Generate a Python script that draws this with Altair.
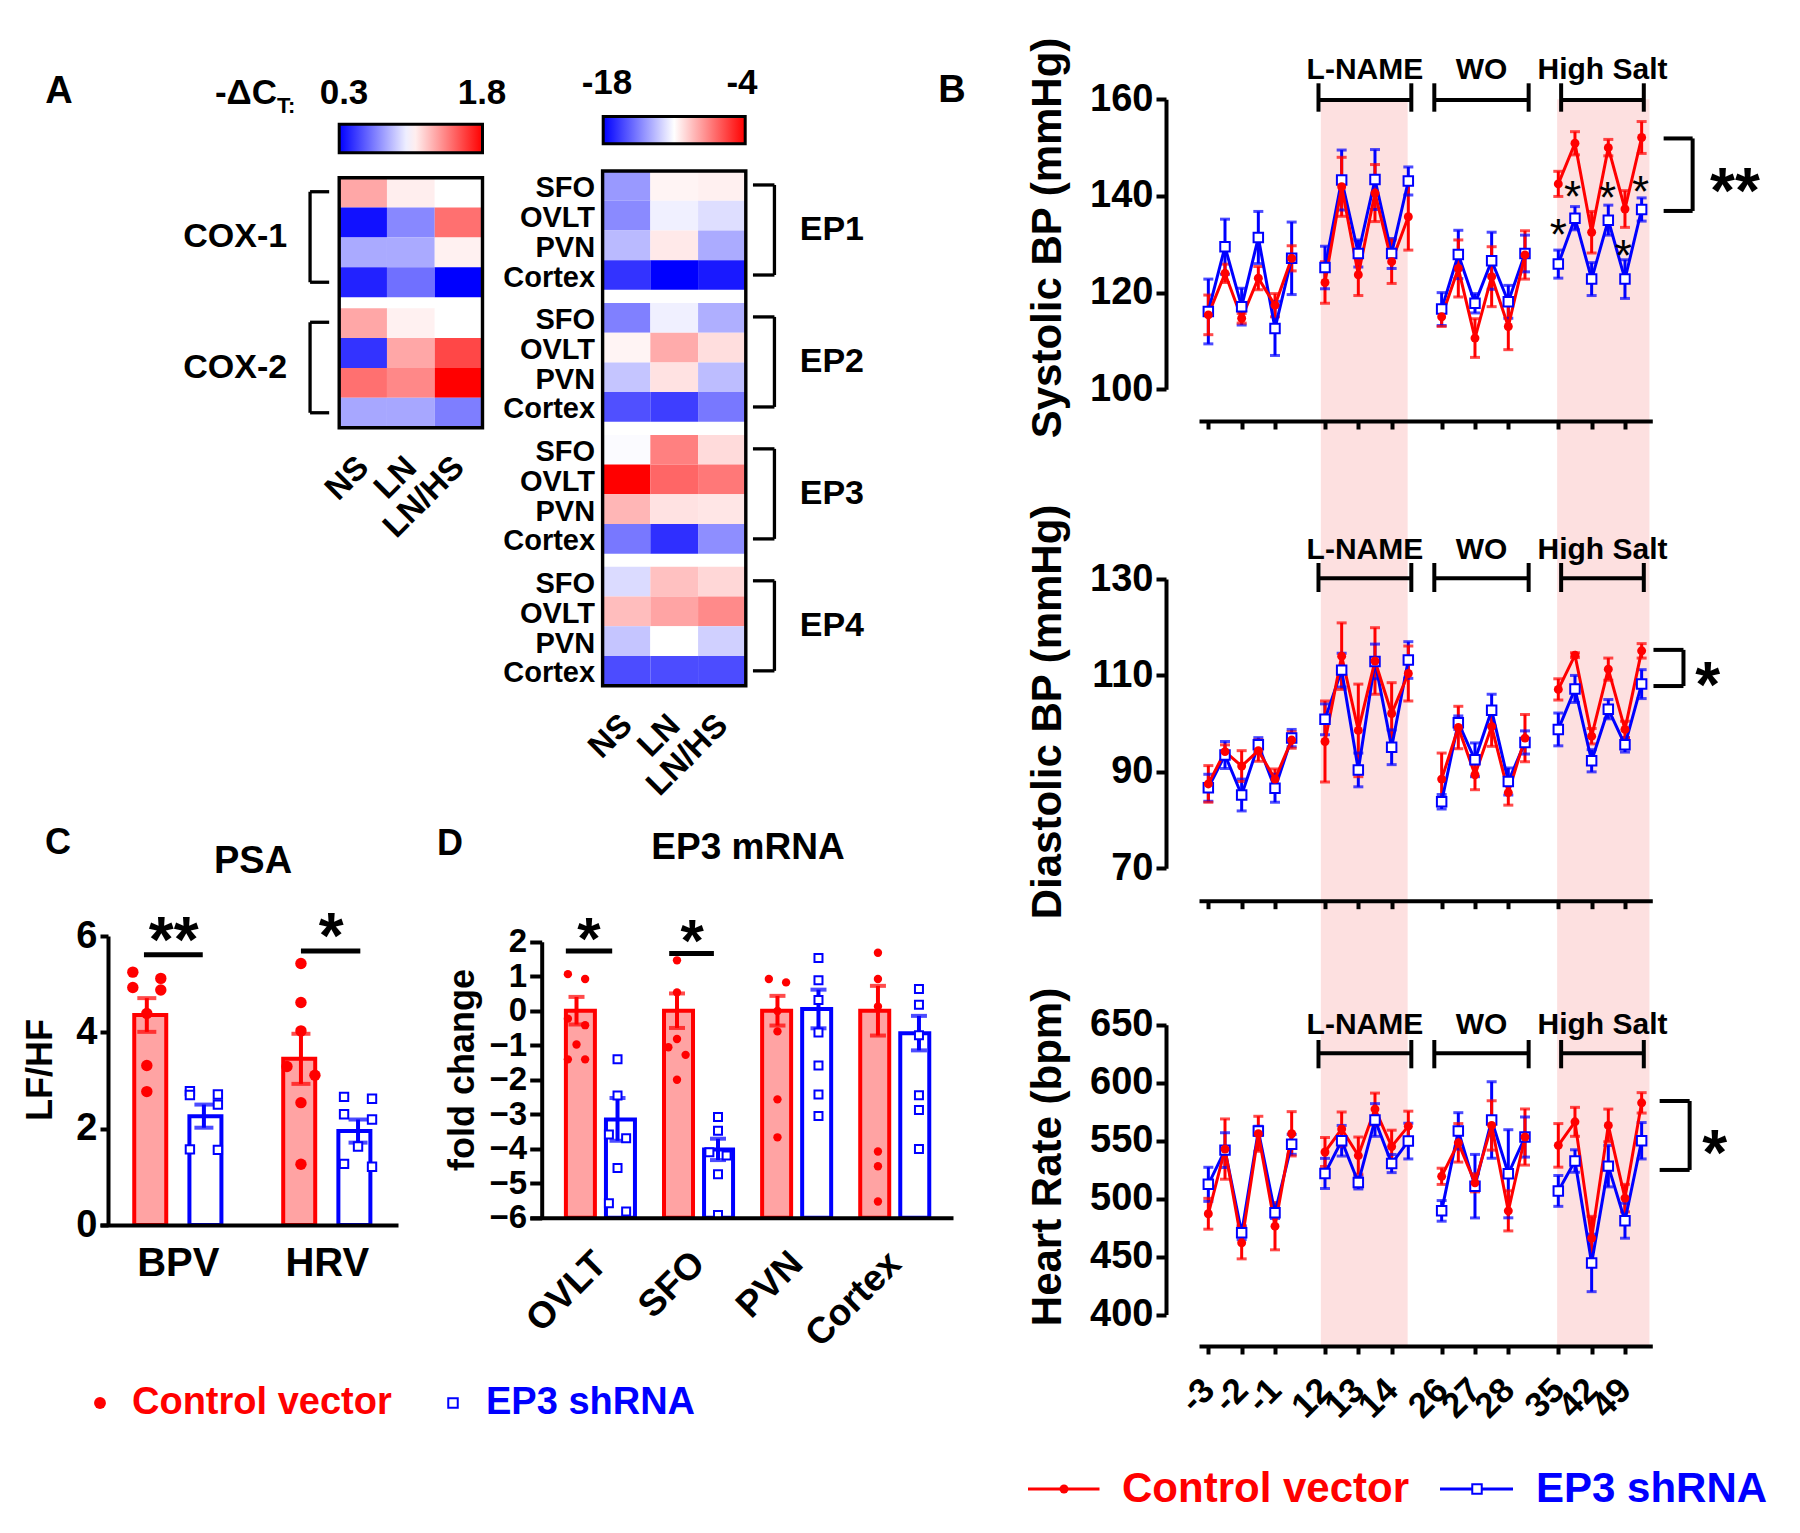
import json
import altair as alt
import pandas as pd

# ------------------------------------------------------------------ data
regions = ["SFO", "OVLT", "PVN", "Cortex"]
conditions = ["NS", "LN", "LN/HS"]

cox_genes = ["COX-1", "COX-2"]
cox_dct = [
    [[1.31, 1.10, 1.05], [0.35, 0.70, 1.47], [0.80, 0.80, 1.09], [0.40, 0.63, 0.30]],
    [[1.31, 1.09, 1.05], [0.45, 1.31, 1.59], [1.47, 1.40, 1.80], [0.79, 0.79, 0.67]],
]
cox_limits = [0.3, 1.8]

ep_genes = ["EP1", "EP2", "EP3", "EP4"]
ep_dct = [
    [[-13.8, -10.7, -10.6], [-14.2, -11.4, -11.9], [-12.9, -10.4, -13.3], [-16.6, -18.0, -17.3]],
    [[-14.5, -11.4, -13.2], [-10.7, -8.7, -10.1], [-12.6, -10.2, -12.8], [-15.8, -16.3, -14.7]],
    [[-11.1, -7.5, -10.0], [-4.0, -6.8, -7.3], [-9.0, -10.2, -10.3], [-14.7, -16.7, -14.1]],
    [[-12.0, -9.3, -9.9], [-9.2, -8.5, -7.8], [-12.6, -11.0, -12.3], [-15.9, -15.9, -15.9]],
]
ep_limits = [-18, -4]

series_names = ["Control vector", "EP3 shRNA"]
period_names = ["Baseline", "L-NAME", "WO", "High Salt"]
day_labels = ["-3", "-2", "-1", "12", "13", "14", "26", "27", "28", "35", "42", "49"]

sbp_ctrl = [115.4, 124.0, 114.7, 123.0, 117.4, 127.1,
            122.1, 141.9, 123.7, 140.6, 126.4, 135.7,
            115.0, 125.0, 110.6, 123.3, 113.0, 127.8,
            142.5, 150.9, 132.5, 150.0, 137.3, 152.1]
sbp_ctrl_sem = [4.1, 1.9, 1.0, 2.4, 2.4, 2.6,
                4.3, 6.1, 4.3, 5.9, 4.5, 6.9,
                2.0, 5.9, 4.0, 6.2, 4.8, 5.0,
                2.6, 2.4, 4.3, 1.7, 3.8, 3.3]
sbp_sh = [116.1, 129.5, 117.1, 131.4, 112.6, 127.1,
          125.2, 143.3, 128.1, 143.4, 128.1, 143.1,
          116.6, 127.9, 117.8, 126.6, 118.1, 128.1,
          125.9, 135.4, 122.8, 135.0, 122.8, 137.2]
sbp_sh_sem = [6.7, 5.7, 3.8, 5.4, 5.6, 7.5,
              4.4, 6.2, 2.8, 6.2, 3.1, 2.9,
              3.4, 5.0, 2.0, 5.9, 3.4, 3.8,
              2.9, 2.4, 3.4, 3.1, 4.0, 2.4]

dbp_ctrl = [87.5, 94.2, 91.2, 94.4, 88.5, 96.6,
            96.3, 114.0, 98.6, 113.0, 102.1, 110.4,
            88.5, 99.2, 89.4, 99.4, 85.7, 97.0,
            107.1, 114.2, 97.4, 111.3, 98.8, 115.1]
dbp_ctrl_sem = [3.8, 1.4, 3.2, 2.2, 2.1, 1.7,
                8.4, 6.9, 9.6, 6.9, 6.4, 5.7,
                5.4, 4.4, 3.1, 4.1, 2.6, 4.9,
                2.2, 0.5, 1.6, 2.3, 1.7, 1.5]
dbp_sh = [86.7, 93.5, 85.2, 95.6, 86.6, 97.0,
          100.9, 111.1, 90.4, 112.9, 95.1, 113.2,
          83.8, 100.2, 92.5, 102.8, 88.0, 96.1,
          98.8, 107.2, 92.3, 103.0, 95.6, 108.2]
dbp_sh_sem = [2.8, 2.8, 3.3, 1.5, 2.9, 1.8,
              3.2, 3.5, 3.5, 3.6, 3.6, 3.8,
              1.5, 1.4, 3.5, 3.3, 2.8, 2.4,
              3.4, 2.8, 2.3, 2.0, 1.5, 3.0]

hr_ctrl = [486.9, 542.7, 461.8, 555.9, 476.2, 555.9,
           540.2, 560.0, 537.1, 577.2, 544.9, 562.5,
           519.2, 548.1, 513.6, 563.1, 489.4, 553.1,
           545.9, 566.2, 465.9, 563.1, 500.4, 582.6]
hr_ctrl_sem = [13.3, 26.0, 13.8, 15.1, 20.4, 19.1,
               12.5, 14.7, 16.0, 13.8, 14.1, 12.9,
               7.0, 16.6, 7.8, 21.3, 17.3, 24.2,
               18.8, 12.5, 18.8, 14.1, 11.9, 8.8]
hr_sh = [512.3, 541.8, 470.6, 558.4, 487.8, 546.8,
         521.7, 549.9, 513.9, 567.8, 530.2, 549.6,
         489.4, 558.4, 510.7, 567.8, 521.4, 553.1,
         506.6, 532.4, 444.5, 528.0, 480.9, 549.9]
hr_sh_sem = [14.7, 15.0, 6.0, 4.0, 5.0, 8.6,
             13.0, 13.2, 5.6, 14.1, 7.8, 15.4,
             8.9, 15.7, 27.4, 33.0, 38.0, 17.3,
             13.3, 9.7, 24.8, 17.9, 15.1, 15.7]

psa_cats = ["BPV", "HRV"]
psa_ctrl_mean = [4.36, 3.45]
psa_ctrl_sem = [0.35, 0.52]
psa_sh_mean = [2.26, 1.95]
psa_sh_sem = [0.24, 0.24]
psa_ctrl_pts = [[5.25, 5.12, 4.93, 4.88, 4.39, 3.31, 2.77],
                [5.43, 4.62, 4.03, 3.29, 3.11, 2.54, 1.26]]
psa_sh_pts = [[2.78, 2.71, 2.70, 2.50, 1.57, 1.56],
              [2.66, 2.62, 2.30, 2.19, 1.63, 1.27, 1.21]]

mrna_cats = ["OVLT", "SFO", "PVN", "Cortex"]
mrna_ctrl_mean = [0.0, 0.0, 0.0, 0.0]
mrna_ctrl_sem = [0.40, 0.50, 0.43, 0.72]
mrna_sh_mean = [-3.15, -4.02, 0.05, -0.65]
mrna_sh_sem = [0.62, 0.31, 0.56, 0.50]
mrna_ctrl_pts = [[1.06, 0.92, -0.23, -0.42, -0.98, -1.41, -1.41],
                 [1.46, 0.53, -0.82, -1.06, -1.28, -2.00],
                 [0.92, 0.82, -0.01, -0.60, -2.57, -3.67],
                 [1.68, 0.92, 0.12, -4.08, -4.51, -5.53]]
mrna_sh_pts = [[-1.41, -2.46, -3.59, -3.70, -4.56, -5.58, -5.82],
               [-3.08, -3.48, -4.10, -4.20, -4.74, -5.92],
               [1.53, 0.88, 0.31, -0.63, -1.59, -2.43, -3.05],
               [0.63, 0.17, -0.71, -2.45, -2.88, -4.01]]

# ------------------------------------------------------------------ style / layout
RED = "#ff0000"
BLUE = "#0000ff"
PINK = "#fde0e0"
BARFILL = "#ffa3a3"
FONT = "Liberation Sans"
W, H = 1784, 1517
M = 8


def P(v):
    return v - M


ONE = pd.DataFrame({"k": [0]})


def ax(**kw):
    base = dict(grid=False, domainColor="black", tickColor="black", labelColor="black",
                labelFont=FONT, labelFontWeight="bold", title=None, labelOverlap=False,
                labelFlush=False, zindex=1)
    base.update(kw)
    return alt.Axis(**base)


def txt(s, x, y, size, color="black", align="center", baseline="middle", angle=0,
        weight="bold", dy=0):
    return alt.Chart(ONE).mark_text(
        text=s, font=FONT, fontSize=size, fontWeight=weight, color=color, align=align,
        baseline=baseline, angle=angle, dy=dy).encode(x=alt.value(P(x)), y=alt.value(P(y)))


# ------------------------------------------------------------------ heatmaps
def heatmap(genes, vals, limits, gap, xr, yr, leg, show_rows, br_in, br_out, lab_x, lab_align):
    rows = []
    for gi, g in enumerate(genes):
        for ri, r in enumerate(regions):
            for ci, c in enumerate(conditions):
                y0 = gi * (4 + gap) + ri
                rows.append({"gene": g, "region": r, "cond": c, "x0": ci, "x1": ci + 1,
                             "y0": y0, "y1": y0 + 1, "v": vals[gi][ri][ci]})
    df = pd.DataFrame(rows)
    ymax = len(genes) * 4 + (len(genes) - 1) * gap
    xs = alt.Scale(domain=[0, 3], range=[P(xr[0]), P(xr[1])], nice=False, zero=False)
    ys = alt.Scale(domain=[0, ymax], range=[P(yr[0]), P(yr[1])], nice=False, zero=False)
    mid = (limits[0] + limits[1]) / 2
    cs = alt.Scale(domain=[limits[0], mid, limits[1]], range=[BLUE, "#ffffff", RED],
                   interpolate="rgb")
    xaxis = ax(orient="bottom", offset=P(yr[1]) - H, values=[0.5, 1.5, 2.5],
               labelExpr=f"{json.dumps(conditions)}[floor(datum.value)]",
               ticks=False, domain=False, labelAngle=315, labelAlign="right",
               labelBaseline="middle", labelFontSize=33, labelPadding=34)
    if show_rows:
        centers = [gi * (4 + gap) + ri + 0.5 for gi in range(len(genes)) for ri in range(4)]
        yaxis = ax(orient="left", offset=-P(xr[0]), values=centers,
                   labelExpr=f"{json.dumps(regions)}[floor(datum.value % {4 + gap})]",
                   ticks=False, domain=False, labelFontSize=29, labelPadding=8,
                   labelBaseline="middle", labelOffset=2)
    else:
        yaxis = None
    lx, ly, ll, lt = leg
    cells = alt.Chart(df).mark_rect().encode(
        x=alt.X("x0:Q", scale=xs, axis=xaxis), x2="x1:Q",
        y=alt.Y("y0:Q", scale=ys, axis=yaxis), y2="y1:Q",
        color=alt.Color("v:Q", scale=cs, legend=alt.Legend(
            orient="none", legendX=P(lx), legendY=P(ly), direction="horizontal",
            gradientLength=ll, gradientThickness=lt, gradientStrokeColor="black",
            gradientStrokeWidth=3, title=None, labelOpacity=0, padding=0,
            values=[limits[0], limits[1]])))
    box = pd.DataFrame({"x0": [0], "x1": [3], "y0": [0], "y1": [ymax]})
    border = alt.Chart(box).mark_rect(fillOpacity=0, stroke="black", strokeWidth=3.4).encode(
        x=alt.X("x0:Q", scale=xs, axis=None), x2="x1:Q",
        y=alt.Y("y0:Q", scale=ys, axis=None), y2="y1:Q")
    segs, labs = [], []
    for gi, g in enumerate(genes):
        ya = gi * (4 + gap) + 0.47
        yb = gi * (4 + gap) + 3.5
        segs += [{"x": br_in, "x2": br_out, "y": ya, "y2": ya},
                 {"x": br_out, "x2": br_out, "y": ya, "y2": yb},
                 {"x": br_in, "x2": br_out, "y": yb, "y2": yb}]
        labs.append({"gene": g, "lx": lab_x, "yc": gi * (4 + gap) + 2})
    brackets = alt.Chart(pd.DataFrame(segs)).mark_rule(strokeWidth=3.3, color="black").encode(
        x=alt.X("x:Q", scale=xs, axis=None), x2="x2:Q",
        y=alt.Y("y:Q", scale=ys, axis=None), y2="y2:Q")
    glabels = alt.Chart(pd.DataFrame(labs)).mark_text(
        font=FONT, fontSize=34, fontWeight="bold", align=lab_align, baseline="middle",
        color="black").encode(
        x=alt.X("lx:Q", scale=xs, axis=None), y=alt.Y("yc:Q", scale=ys, axis=None),
        text="gene:N")
    return [cells, border, brackets, glabels]


cox_map = heatmap(cox_genes, cox_dct, cox_limits, 0.37, (339.2, 482.5), (177.7, 427.7),
                  (339.2, 124.3, 143.3, 28.4), False, -0.21, -0.61, -1.09, "right")
ep_map = heatmap(ep_genes, ep_dct, ep_limits, 0.44, (602.6, 745.8), (171.0, 685.7),
                 (603.2, 116.6, 142.0, 27.2), True, 3.15, 3.6, 4.13, "left")

# ------------------------------------------------------------------ panel B
XS_B = alt.Scale(domain=[-0.56, 26.64], range=[P(1199), P(1652.3)], nice=False, zero=False)
tick_idx = [7 * p + 2 * j for p in range(4) for j in range(3)]
lab_arr = [""] * 27
for t, lab in zip(tick_idx, day_labels):
    lab_arr[t] = lab
col_b = alt.Color("series:N", scale=alt.Scale(domain=series_names, range=[RED, BLUE]),
                  legend=None)

period_br = pd.DataFrame({"period": ["L-NAME", "WO", "High Salt"],
                          "start": [6.61, 13.56, 21.17], "end": [12.18, 19.22, 26.13]})
period_br["mid"] = (period_br["start"] + period_br["end"]) / 2


def b_panel(mc, sc, ms, ss, ydom, yr, yvals, xaxis_y, show_labels, ann_y, sig, stars):
    rows = []
    for name, means, sems in [(series_names[1], ms, ss), (series_names[0], mc, sc)]:
        for k, (m, s) in enumerate(zip(means, sems)):
            rows.append({"series": name, "period": period_names[k // 6],
                         "idx": 7 * (k // 6) + k % 6, "mean": m, "lo": m - s, "hi": m + s})
    df = pd.DataFrame(rows)
    ys = alt.Scale(domain=ydom, range=[P(yr[0]), P(yr[1])], nice=False, zero=False)
    yaxis = ax(orient="left", offset=-P(1166), values=yvals, tickSize=10, tickWidth=4,
               domainWidth=4, labelFontSize=38, labelPadding=3)
    xaxis = ax(orient="bottom", offset=P(xaxis_y) - H, values=tick_idx, tickSize=8,
               tickWidth=4, domainWidth=4, labels=show_labels,
               labelExpr=f"{json.dumps(lab_arr)}[round(datum.value)]", labelAngle=315,
               labelAlign="right", labelBaseline="middle", labelFontSize=35, labelPadding=30)
    base = alt.Chart(df)
    X = alt.X("idx:Q", scale=XS_B, axis=None)
    err = base.mark_rule(strokeWidth=3).encode(
        x=alt.X("idx:Q", scale=XS_B, axis=xaxis),
        y=alt.Y("lo:Q", scale=ys, axis=yaxis), y2="hi:Q", color=col_b)
    caps = base.transform_fold(["lo", "hi"], as_=["end", "val"]).mark_tick(
        orient="horizontal", size=10, thickness=3).encode(
        x=X, y=alt.Y("val:Q", scale=ys, axis=None), color=col_b)
    Y = alt.Y("mean:Q", scale=ys, axis=None)
    line_sh = base.transform_filter(alt.datum.series == series_names[1]).mark_line(
        strokeWidth=3, color=BLUE).encode(x=X, y=Y, detail="period:N")
    line_c = base.transform_filter(alt.datum.series == series_names[0]).mark_line(
        strokeWidth=3, color=RED).encode(x=X, y=Y, detail="period:N")
    sq = base.transform_filter(alt.datum.series == series_names[1]).mark_point(
        shape="square", filled=True, fill="white", stroke=BLUE, strokeWidth=2, size=90,
        opacity=1).encode(x=X, y=Y)
    dots = base.transform_filter(alt.datum.series == series_names[0]).mark_circle(
        size=80, color=RED, opacity=1).encode(x=X, y=Y)
    lab_y, line_y, cap_top, cap_bot = ann_y
    pb = alt.Chart(period_br)
    plab = pb.mark_text(font=FONT, fontSize=30, fontWeight="bold", color="black",
                        baseline="middle").encode(
        x=alt.X("mid:Q", scale=XS_B, axis=None), y=alt.value(P(lab_y)), text="period:N")
    pline = pb.mark_rule(strokeWidth=4, color="black").encode(
        x=alt.X("start:Q", scale=XS_B, axis=None), x2="end:Q", y=alt.value(P(line_y)))
    pcap1 = pb.mark_rule(strokeWidth=4, color="black").encode(
        x=alt.X("start:Q", scale=XS_B, axis=None), y=alt.value(P(cap_top)),
        y2=alt.value(P(cap_bot)))
    pcap2 = pb.mark_rule(strokeWidth=4, color="black").encode(
        x=alt.X("end:Q", scale=XS_B, axis=None), y=alt.value(P(cap_top)),
        y2=alt.value(P(cap_bot)))
    xin, xout, ya, yb, sx, sy, stxt = sig
    sdf = pd.DataFrame([{"x": xin, "x2": xout, "y": ya, "y2": ya},
                        {"x": xout, "x2": xout, "y": ya, "y2": yb},
                        {"x": xin, "x2": xout, "y": yb, "y2": yb}])
    sbr = alt.Chart(sdf).mark_rule(strokeWidth=4, color="black").encode(
        x=alt.X("x:Q", scale=XS_B, axis=None), x2="x2:Q",
        y=alt.Y("y:Q", scale=ys, axis=None), y2="y2:Q")
    sstar = alt.Chart(pd.DataFrame({"x": [sx], "y": [sy], "t": [stxt]})).mark_text(
        font=FONT, fontSize=64, fontWeight="bold", color="black", baseline="middle",
        dy=16).encode(x=alt.X("x:Q", scale=XS_B, axis=None),
                      y=alt.Y("y:Q", scale=ys, axis=None), text="t:N")
    layers = [err, caps, line_sh, line_c, sq, dots, plab, pline, pcap1, pcap2, sbr, sstar]
    if stars is not None:
        layers.append(alt.Chart(stars).mark_text(
            font=FONT, fontSize=44, fontWeight="normal", color="black", baseline="middle",
            dy=11, text="*").encode(x=alt.X("x:Q", scale=XS_B, axis=None),
                                    y=alt.Y("y:Q", scale=ys, axis=None)))
    return layers


sbp_stars = pd.DataFrame({"x": [21.85, 23.95, 25.93, 21.0, 24.9],
                          "y": [141.6, 141.4, 142.6, 133.7, 129.5]})

top = b_panel(sbp_ctrl, sbp_ctrl_sem, sbp_sh, sbp_sh_sem, [100, 160], (389.3, 99.3),
              [100, 120, 140, 160], 421, False, (70, 100, 83.3, 111.7),
              (27.32, 29.06, 151.9, 136.9, 31.6, 143.7, "**"), sbp_stars)
mid = b_panel(dbp_ctrl, dbp_ctrl_sem, dbp_sh, dbp_sh_sem, [70, 130], (868.3, 579),
              [70, 90, 110, 130], 900.7, False, (550, 578.3, 563, 592),
              (26.71, 28.51, 115.3, 107.8, 29.96, 110.7, "*"), None)
bot = b_panel(hr_ctrl, hr_ctrl_sem, hr_sh, hr_sh_sem, [400, 650], (1314.5, 1024.7),
              [400, 450, 500, 550, 600, 650], 1346, True, (1025, 1053.3, 1040, 1068.3),
              (27.08, 28.88, 584.2, 524.7, 30.38, 550.4, "*"), None)

shade_df = pd.DataFrame({"phase": ["L-NAME", "High Salt"], "start": [6.75, 20.93],
                         "end": [11.96, 26.47]})
shade = alt.Chart(shade_df).mark_rect(color=PINK).encode(
    x=alt.X("start:Q", scale=XS_B, axis=None), x2="end:Q",
    y=alt.value(P(99.3)), y2=alt.value(P(1346)))


# ------------------------------------------------------------------ panels C & D
def swarm_cols(vals, delta):
    order = sorted(range(len(vals)), key=lambda i: -vals[i])
    cols = [0] * len(vals)
    chains, cur = [], [order[0]]
    for a, b in zip(order, order[1:]):
        if vals[a] - vals[b] < delta:
            cur.append(b)
        else:
            chains.append(cur)
            cur = [b]
    chains.append(cur)
    for ch in chains:
        n = len(ch)
        alt_pat = [(-1 if j % 2 == 0 else 1) for j in range(n)]
        pat = [0] if n == 1 else (alt_pat if n % 2 == 0 else [0] + alt_pat[:n - 1])
        for i, c in zip(ch, pat):
            cols[i] = c
    return cols


def bar_panel(cats, cm, cse, cpts, sm, sse, spts, k, xdom, xr, ydom, yr, base_v, yaxis_x,
              xaxis_y, yvals, ytick, ylab_fs, ylab_pad, xlab, bar_w, cap_w, dot_s, sq_s,
              col_step, delta, sig_lines, sig_stars, star_fs, line_w):
    xs = alt.Scale(domain=xdom, range=[P(xr[0]), P(xr[1])], nice=False, zero=False)
    ys = alt.Scale(domain=ydom, range=[P(yr[0]), P(yr[1])], nice=False, zero=False)
    bars, pts = [], []
    for ci, cat in enumerate(cats):
        for si, (name, mm, ss, pp) in enumerate([(series_names[0], cm, cse, cpts),
                                                  (series_names[1], sm, sse, spts)]):
            pos = ci * k + si
            bars.append({"cat": cat, "series": name, "pos": pos, "mean": mm[ci],
                         "lo": mm[ci] - ss[ci], "hi": mm[ci] + ss[ci]})
            for v, c in zip(pp[ci], swarm_cols(pp[ci], delta)):
                pts.append({"cat": cat, "series": name, "pos": pos + c * col_step, "v": v})
    bdf, pdf = pd.DataFrame(bars), pd.DataFrame(pts)
    yaxis = ax(orient="left", offset=-P(yaxis_x), values=yvals, tickSize=ytick, tickWidth=4,
               domainWidth=4, labelFontSize=ylab_fs, labelPadding=ylab_pad)
    lab_pos = [ci * k + 0.5 for ci in range(len(cats))]
    xaxis = ax(orient="bottom", offset=P(xaxis_y) - H, values=lab_pos, ticks=False,
               domainWidth=4, labelExpr=f"{json.dumps(cats)}[round((datum.value - 0.5) / {k})]",
               **xlab)
    fill_c = alt.Color("series:N", scale=alt.Scale(domain=series_names,
                                                   range=[BARFILL, "#ffffff"]), legend=None)
    stroke_c = alt.Stroke("series:N", scale=alt.Scale(domain=series_names, range=[RED, BLUE]),
                          legend=None)
    X = alt.X("pos:Q", scale=xs, axis=None)
    bar = alt.Chart(bdf).mark_bar(size=bar_w, strokeWidth=4, opacity=1).encode(
        x=alt.X("pos:Q", scale=xs, axis=xaxis),
        y=alt.Y("mean:Q", scale=ys, axis=yaxis), y2=alt.datum(base_v),
        fill=fill_c, stroke=stroke_c)
    errc = alt.Color("series:N", scale=alt.Scale(domain=series_names, range=[RED, BLUE]),
                     legend=None)
    err = alt.Chart(bdf).mark_rule(strokeWidth=4).encode(
        x=X, y=alt.Y("lo:Q", scale=ys, axis=None), y2="hi:Q", color=errc)
    caps = alt.Chart(bdf).transform_fold(["lo", "hi"], as_=["end", "val"]).mark_tick(
        orient="horizontal", size=cap_w, thickness=4).encode(
        x=X, y=alt.Y("val:Q", scale=ys, axis=None), color=errc)
    dots = alt.Chart(pdf).transform_filter(alt.datum.series == series_names[0]).mark_circle(
        size=dot_s, color=RED, opacity=1).encode(x=X, y=alt.Y("v:Q", scale=ys, axis=None))
    sqs = alt.Chart(pdf).transform_filter(alt.datum.series == series_names[1]).mark_point(
        shape="square", filled=True, fill="white", stroke=BLUE, strokeWidth=2, size=sq_s,
        opacity=1).encode(x=X, y=alt.Y("v:Q", scale=ys, axis=None))
    sl = alt.Chart(pd.DataFrame(sig_lines)).mark_rule(strokeWidth=line_w, color="black").encode(
        x=alt.X("x:Q", scale=xs, axis=None), x2="x2:Q", y=alt.Y("y:Q", scale=ys, axis=None))
    st = alt.Chart(pd.DataFrame(sig_stars)).mark_text(
        font=FONT, fontSize=star_fs, fontWeight="bold", color="black", baseline="middle",
        dy=round(star_fs * 0.25)).encode(
        x=alt.X("x:Q", scale=xs, axis=None), y=alt.Y("y:Q", scale=ys, axis=None), text="t:N")
    return [bar, err, caps, dots, sqs, sl, st]


panel_c = bar_panel(
    psa_cats, psa_ctrl_mean, psa_ctrl_sem, psa_ctrl_pts, psa_sh_mean, psa_sh_sem, psa_sh_pts,
    2.7, [-0.82, 4.40], (100, 398), [0, 6], (1225, 936), 0, 108, 1225, [0, 2, 4, 6], 8, 38, 3,
    dict(labelFontSize=40, labelAngle=0, labelAlign="center", labelBaseline="top",
         labelPadding=18),
    32, 19, 130, 70, 0.245, 0.25,
    [{"x": -0.05, "x2": 0.98, "y": 5.61}, {"x": 2.70, "x2": 3.74, "y": 5.69}],
    [{"x": 0.47, "y": 6.19, "t": "**"}, {"x": 3.23, "y": 6.27, "t": "*"}], 64, 5)

panel_d = bar_panel(
    mrna_cats, mrna_ctrl_mean, mrna_ctrl_sem, mrna_ctrl_pts, mrna_sh_mean, mrna_sh_sem,
    mrna_sh_pts, 2.45, [-1.134, 9.18], (530, 953), [-6, 2], (1217.7, 941.7), -6, 541.7,
    1217.7, list(range(-6, 3)), 12, 33, 3,
    dict(labelFontSize=37, labelAngle=315, labelAlign="right", labelBaseline="middle",
         labelPadding=40),
    29, 16, 70, 64, 0.21, 0.26,
    [{"x": -0.26, "x2": 0.87, "y": 1.73}, {"x": 2.26, "x2": 3.35, "y": 1.66}],
    [{"x": 0.30, "y": 2.46, "t": "*"}, {"x": 2.82, "y": 2.40, "t": "*"}], 60, 5)

# ------------------------------------------------------------------ free text & legends
texts = [
    txt("A", 59, 92, 38), txt("B", 952, 91, 38), txt("C", 58, 843, 36), txt("D", 450, 844, 36),
    txt("-\u0394C", 277, 93, 35, align="right"), txt("T:", 277, 106, 22, align="left"),
    txt("0.3", 344, 93, 35), txt("1.8", 482, 93, 35),
    txt("-18", 607, 83, 35), txt("-4", 742, 83, 35),
    txt("PSA", 253, 862, 38), txt("EP3 mRNA", 748, 848, 37),
    txt("LF/HF", 41, 1070, 36, angle=270), txt("fold change", 463, 1070, 36, angle=270),
    txt("Systolic BP (mmHg)", 1048, 238, 42, angle=270),
    txt("Diastolic BP (mmHg)", 1048, 712, 42, angle=270),
    txt("Heart  Rate (bpm)", 1048, 1157, 42, angle=270),
    txt(series_names[0], 132, 1403, 38, color=RED, align="left"),
    txt(series_names[1], 486, 1403, 38, color=BLUE, align="left"),
    txt(series_names[0], 1122, 1489, 42, color=RED, align="left"),
    txt(series_names[1], 1536, 1489, 42, color=BLUE, align="left"),
]


def seg(x1, x2, y, color):
    return alt.Chart(ONE).mark_rule(strokeWidth=3, color=color).encode(
        x=alt.value(P(x1)), x2=alt.value(P(x2)), y=alt.value(P(y)))


legend_marks = [
    alt.Chart(ONE).mark_circle(size=140, color=RED, opacity=1).encode(
        x=alt.value(P(100)), y=alt.value(P(1403))),
    alt.Chart(ONE).mark_point(shape="square", filled=True, fill="white", stroke=BLUE,
                              strokeWidth=2, size=90, opacity=1).encode(
        x=alt.value(P(453)), y=alt.value(P(1403))),
    seg(1028, 1099.5, 1489, RED),
    alt.Chart(ONE).mark_circle(size=80, color=RED, opacity=1).encode(
        x=alt.value(P(1064)), y=alt.value(P(1489))),
    seg(1440, 1513, 1489, BLUE),
    alt.Chart(ONE).mark_point(shape="square", filled=True, fill="white", stroke=BLUE,
                              strokeWidth=2, size=90, opacity=1).encode(
        x=alt.value(P(1477)), y=alt.value(P(1489))),
]

units = [shade] + top + mid + bot + cox_map + ep_map + panel_c + panel_d + texts + legend_marks

chart = alt.layer(*units).resolve_scale(
    x="independent", y="independent", color="independent", fill="independent",
    stroke="independent"
).properties(
    width=W, height=H, padding=0
).configure(font=FONT).configure_view(strokeWidth=0)

chart.save("out.html", embed_options={"renderer": "svg", "actions": False})
